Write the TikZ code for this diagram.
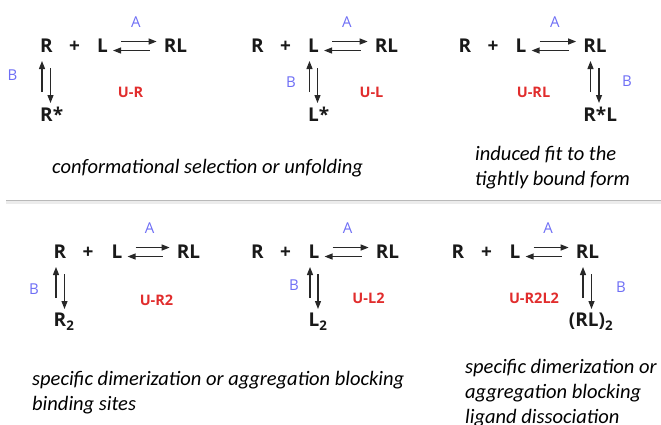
\documentclass[tikz,border=0pt]{standalone}
\usepackage{fontspec}
\setmainfont{Open Sans}
\newfontfamily\notefont{Carlito}
\usetikzlibrary{arrows.meta,positioning}
\definecolor{rateblue}{RGB}{110,110,245}
\definecolor{modelred}{RGB}{225,45,45}
\definecolor{arrowgray}{RGB}{40,40,40}
\begin{document}
\begin{tikzpicture}[x=1pt,y=1pt,
	species/.style={inner sep=0pt,anchor=base,text=black!90,font=\bfseries\fontsize{19}{19}\selectfont},
	lower/.style={inner sep=0pt,anchor=north west,text=black!90,font=\bfseries\fontsize{19}{19}\selectfont},
	rate/.style={inner sep=0pt,text=rateblue,font=\fontsize{15}{15}\selectfont},
	model/.style={inner sep=0pt,text=modelred,font=\bfseries\fontsize{14.5}{14.5}\selectfont},
	note/.style={inner sep=0pt,anchor=base west,align=left,font=\notefont\itshape\fontsize{20.5}{25}\selectfont},
	eqarrow/.style={draw=arrowgray,line width=1.3pt,-{Triangle[length=8pt,width=6pt]}},
	fwdarrow/.style={eqarrow,shorten <=13pt,shorten >=7pt},
	backarrow/.style={eqarrow,shorten <=14pt,shorten >=5pt},
	uparrow/.style={eqarrow,shorten <=15pt,shorten >=8pt},
	downarrow/.style={eqarrow,shorten <=15pt,shorten >=4pt}]
	\useasboundingbox (0,0) rectangle (661,-424);
	% top left: U-R
	\node[species] (r1) at (46.5,-52.8) {R};
	\node[species] (p1) at (74.5,-52.8) {+};
	\node[species] (l1) at (102.5,-52.8) {L};
	\node[species] (rl1) at (175.5,-52.8) {RL};
	\node[lower,below=54pt of r1.south west,anchor=north west] (rs1) {R*};
	\draw[fwdarrow] ([yshift=4.5pt]l1.east) -- node[rate,above=13pt] (a1) {A} ([yshift=4.5pt]rl1.west);
	\draw[backarrow] ([yshift=-4.5pt]rl1.west) -- ([yshift=-4.5pt]l1.east);
	\draw[uparrow] ([xshift=-4.5pt]r1.south |- rs1.north) -- ([xshift=-4.5pt]r1.south);
	\draw[downarrow] ([xshift=4pt]r1.south) -- ([xshift=4pt]r1.south |- rs1.north);
	\node[rate] (b1) at (12.5,-75) {B};
	\node[model] (u1) at (130.5,-92.5) {U-R};
	\node[note] (n1) at (52,-173) {conformational selection or unfolding};
	% top middle: U-L
	\node[species] (r2) at (257.5,-52.8) {R};
	\node[species] (p2) at (285.5,-52.8) {+};
	\node[species] (l2) at (313.5,-52.8) {L};
	\node[species] (rl2) at (386.5,-52.8) {RL};
	\node[lower,below=54pt of l2.south west,anchor=north west] (ls2) {L*};
	\draw[fwdarrow] ([yshift=4.5pt]l2.east) -- node[rate,above=13pt] (a2) {A} ([yshift=4.5pt]rl2.west);
	\draw[backarrow] ([yshift=-4.5pt]rl2.west) -- ([yshift=-4.5pt]l2.east);
	\draw[uparrow] ([xshift=-4pt]l2.south |- ls2.north) -- ([xshift=-4pt]l2.south);
	\draw[downarrow] ([xshift=4pt]l2.south) -- ([xshift=4pt]l2.south |- ls2.north);
	\node[rate] (b2) at (291,-82) {B};
	\node[model] (u2) at (371.5,-92) {U-L};
	% top right: U-RL
	\node[species] (r3) at (465,-52.8) {R};
	\node[species] (p3) at (493,-52.8) {+};
	\node[species] (l3) at (521,-52.8) {L};
	\node[species] (rl3) at (595,-52.8) {RL};
	\node[lower,below=54pt of rl3.south west,anchor=north west] (rsl3) {R*L};
	\draw[fwdarrow] ([yshift=4.5pt]l3.east) -- node[rate,above=13pt] (a3) {A} ([yshift=4.5pt]rl3.west);
	\draw[backarrow] ([yshift=-4.5pt]rl3.west) -- ([yshift=-4.5pt]l3.east);
	\draw[uparrow] ([xshift=-4.5pt]rl3.south |- rsl3.north) -- ([xshift=-4.5pt]rl3.south);
	\draw[downarrow] ([xshift=4pt]rl3.south) -- ([xshift=4pt]rl3.south |- rsl3.north);
	\node[rate] (b3) at (627,-81) {B};
	\node[model] (u3) at (533.5,-92) {U-RL};
	\node[note] (n3) at (475,-185) {induced fit to the\\tightly bound form};
	% separator
	\draw[gray!15,line width=3pt] (6,-202) -- (661,-202);
	\draw[gray!55,line width=1pt] (6,-200) -- (661,-200);
	% bottom left: U-R2
	\node[species] (r4) at (60,-258.8) {R};
	\node[species] (p4) at (88,-258.8) {+};
	\node[species] (l4) at (117,-258.8) {L};
	\node[species] (rl4) at (188.5,-258.8) {RL};
	\node[lower,below=54pt of r4.south west,anchor=north west] (rr4) {R\textsubscript{2}};
	\draw[fwdarrow] ([yshift=4.5pt]l4.east) -- node[rate,above=13pt] (a4) {A} ([yshift=4.5pt]rl4.west);
	\draw[backarrow] ([yshift=-4.5pt]rl4.west) -- ([yshift=-4.5pt]l4.east);
	\draw[uparrow] ([xshift=-4pt]r4.south |- rr4.north) -- ([xshift=-4pt]r4.south);
	\draw[downarrow] ([xshift=4.5pt]r4.south) -- ([xshift=4.5pt]r4.south |- rr4.north);
	\node[rate] (b4) at (34,-289) {B};
	\node[model] (u4) at (156.5,-300.5) {U-R2};
	\node[note] (n4) at (32,-410) {specific dimerization or aggregation blocking\\binding sites};
	% bottom middle: U-L2
	\node[species] (r5) at (257.5,-258.8) {R};
	\node[species] (p5) at (285.5,-258.8) {+};
	\node[species] (l5) at (314,-258.8) {L};
	\node[species] (rl5) at (387.5,-258.8) {RL};
	\node[lower,below=54pt of l5.south west,anchor=north west] (ll5) {L\textsubscript{2}};
	\draw[fwdarrow] ([yshift=4.5pt]l5.east) -- node[rate,above=13pt] (a5) {A} ([yshift=4.5pt]rl5.west);
	\draw[backarrow] ([yshift=-4.5pt]rl5.west) -- ([yshift=-4.5pt]l5.east);
	\draw[uparrow] ([xshift=-4pt]l5.south |- ll5.north) -- ([xshift=-4pt]l5.south);
	\draw[downarrow] ([xshift=4pt]l5.south) -- ([xshift=4pt]l5.south |- ll5.north);
	\node[rate] (b5) at (294,-285) {B};
	\node[model] (u5) at (368.5,-298) {U-L2};
	% bottom right: U-R2L2
	\node[species] (r6) at (458,-258.8) {R};
	\node[species] (p6) at (486.5,-258.8) {+};
	\node[species] (l6) at (515,-258.8) {L};
	\node[species] (rl6) at (587.5,-258.8) {RL};
	\node[lower,below=54pt of rl6.south west,anchor=north west,xshift=-7pt] (rld6) {(RL)\textsubscript{2}};
	\draw[fwdarrow] ([yshift=4.5pt]l6.east) -- node[rate,above=13pt] (a6) {A} ([yshift=4.5pt]rl6.west);
	\draw[backarrow] ([yshift=-4.5pt]rl6.west) -- ([yshift=-4.5pt]l6.east);
	\draw[uparrow] ([xshift=-4.5pt]rl6.south |- rld6.north) -- ([xshift=-4.5pt]rl6.south);
	\draw[downarrow] ([xshift=4pt]rl6.south) -- ([xshift=4pt]rl6.south |- rld6.north);
	\node[rate] (b6) at (621,-287) {B};
	\node[model] (u6) at (534,-298) {U-R2L2};
	\node[note] (n6) at (465,-423) {specific dimerization or\\aggregation blocking\\ligand dissociation};
\end{tikzpicture}
\end{document}
